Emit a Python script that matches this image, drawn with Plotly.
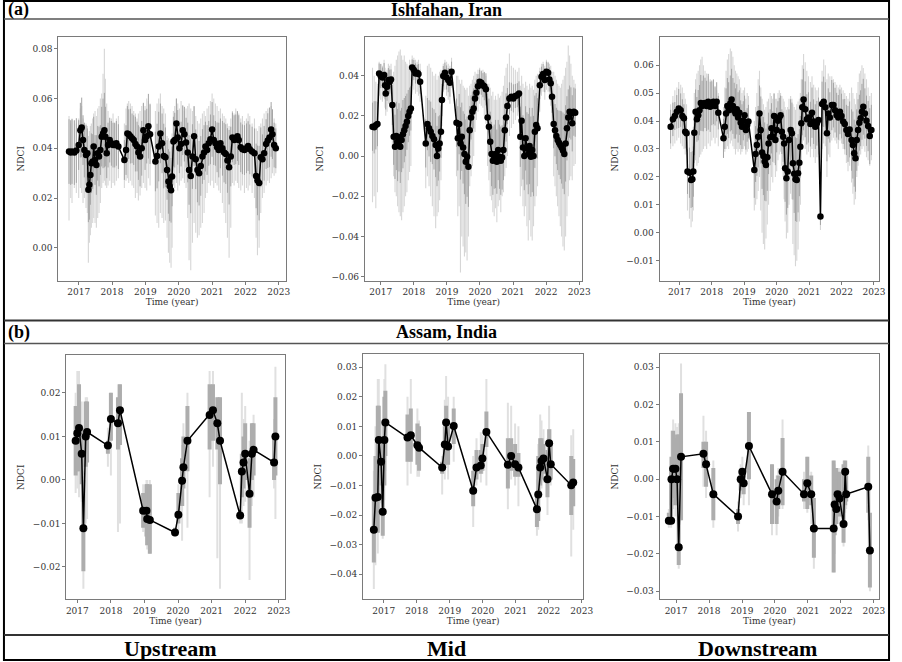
import numpy as np
import plotly.graph_objects as go

W, H = 902, 662

# ---------------- (a) Ishfahan, Iran : Upstream ----------------
a1_t = [2016.71, 2016.76, 2016.80, 2016.87, 2016.93,
        2017.00, 2017.05, 2017.09, 2017.13, 2017.17, 2017.22, 2017.26,
        2017.29, 2017.32, 2017.35, 2017.38, 2017.42,
        2017.45, 2017.49, 2017.53, 2017.57, 2017.61, 2017.65,
        2017.69, 2017.73, 2017.77, 2017.80, 2017.84,
        2017.88, 2017.93, 2017.98, 2018.03, 2018.08, 2018.13, 2018.19,
        2018.37, 2018.42, 2018.46, 2018.50, 2018.55, 2018.60, 2018.65, 2018.70, 2018.75, 2018.79, 2018.84, 2018.89,
        2018.94, 2018.99, 2019.04, 2019.09, 2019.14,
        2019.30, 2019.35, 2019.40, 2019.45, 2019.50, 2019.55, 2019.60,
        2019.65, 2019.69, 2019.73, 2019.77, 2019.80,
        2019.84, 2019.88, 2019.93, 2019.97, 2020.02, 2020.07, 2020.12, 2020.17, 2020.22,
        2020.27, 2020.31, 2020.36, 2020.41, 2020.46,
        2020.51, 2020.56, 2020.61, 2020.66, 2020.71, 2020.76, 2020.80, 2020.85,
        2020.90, 2020.95, 2021.00, 2021.05, 2021.10, 2021.15, 2021.20, 2021.25,
        2021.31, 2021.36, 2021.41, 2021.46, 2021.51, 2021.56,
        2021.61, 2021.66, 2021.71, 2021.76, 2021.80, 2021.86, 2021.91, 2021.97, 2022.03, 2022.08, 2022.13, 2022.20, 2022.27,
        2022.32, 2022.36, 2022.41, 2022.46,
        2022.51, 2022.56, 2022.62, 2022.67, 2022.72, 2022.77, 2022.81, 2022.86, 2022.91]
a1_v = [0.0387, 0.0383, 0.0387, 0.0383, 0.0391,
        0.0413, 0.0473, 0.0484, 0.0433, 0.0393, 0.0373, 0.038,
        0.0233, 0.0253, 0.0293, 0.034, 0.0347,
        0.0407, 0.0353, 0.0333, 0.038, 0.0367, 0.0393,
        0.0447, 0.046, 0.0473, 0.0447, 0.038,
        0.0413, 0.0433, 0.042, 0.0413, 0.0413, 0.042, 0.0407,
        0.0353, 0.0393, 0.046, 0.0457, 0.0449, 0.044, 0.0433, 0.0417, 0.0407, 0.0383, 0.0367, 0.04,
        0.0473, 0.0433, 0.0449, 0.0489, 0.0457,
        0.0347, 0.0369, 0.0407, 0.046, 0.042, 0.0369, 0.0364,
        0.0313, 0.0267, 0.0247, 0.0231, 0.0287,
        0.0427, 0.0433, 0.05, 0.0444, 0.04, 0.0417, 0.0473, 0.0457, 0.0423,
        0.0383, 0.0313, 0.0289, 0.0367, 0.0449,
        0.0356, 0.0313, 0.03, 0.0329, 0.0367, 0.0383, 0.0407, 0.0393,
        0.042, 0.0436, 0.0476, 0.0433, 0.042, 0.0404, 0.0393, 0.042,
        0.04, 0.0383, 0.0377, 0.0351, 0.0324, 0.0367,
        0.0444, 0.0433, 0.0436, 0.0449, 0.0433, 0.0404, 0.0396, 0.0393, 0.04, 0.0409, 0.0396, 0.0387, 0.038,
        0.0289, 0.0271, 0.026, 0.0364,
        0.0356, 0.038, 0.0417, 0.0431, 0.0444, 0.0476, 0.0457, 0.0413, 0.04]
a1_sd = [0.013, 0.013, 0.013, 0.013, 0.013,
         0.01, 0.011, 0.012, 0.01, 0.011, 0.012, 0.01,
         0.013, 0.014, 0.012, 0.012, 0.011,
         0.012, 0.01, 0.012, 0.011, 0.012, 0.01,
         0.012, 0.014, 0.015, 0.012, 0.01,
         0.009, 0.009, 0.009, 0.009, 0.009, 0.009, 0.009,
         0.008, 0.01, 0.011, 0.01, 0.011, 0.01, 0.01, 0.011, 0.01, 0.011, 0.012, 0.011,
         0.011, 0.012, 0.011, 0.013, 0.012,
         0.012, 0.013, 0.014, 0.012, 0.012, 0.013, 0.012,
         0.012, 0.013, 0.014, 0.013, 0.012,
         0.01, 0.011, 0.01, 0.011, 0.01, 0.009, 0.01, 0.011, 0.01,
         0.012, 0.014, 0.015, 0.013, 0.012,
         0.012, 0.013, 0.013, 0.012, 0.011, 0.011, 0.01, 0.01,
         0.009, 0.01, 0.011, 0.01, 0.009, 0.01, 0.011, 0.01,
         0.011, 0.012, 0.012, 0.013, 0.015, 0.012,
         0.01, 0.01, 0.01, 0.01, 0.01, 0.01, 0.01, 0.01, 0.01, 0.01, 0.01, 0.01, 0.01,
         0.013, 0.014, 0.015, 0.012,
         0.01, 0.011, 0.01, 0.011, 0.012, 0.011, 0.01, 0.009, 0.008]
a1_lo = [0.011, 0.02, 0.018, 0.024, 0.022,
         0.02, 0.024, 0.022, 0.018, 0.02, 0.016, 0.014,
         -0.006, 0.002, 0.005, 0.008, 0.01,
         0.012, 0.01, 0.008, 0.012, 0.014, 0.018,
         0.024, 0.026, 0.027, 0.025, 0.024,
         0.025, 0.027, 0.024, 0.026, 0.025, 0.027, 0.028,
         0.024, 0.027, 0.028, 0.026, 0.027, 0.025, 0.024, 0.02, 0.022, 0.019, 0.021, 0.024,
         0.026, 0.024, 0.023, 0.028, 0.025,
         0.013, 0.01, 0.008, 0.014, 0.012, 0.01, 0.011,
         0.004, -0.002, -0.006, -0.008, 0.0,
         0.025, 0.024, 0.026, 0.023, 0.025, 0.027, 0.028, 0.026, 0.024,
         0.012, -0.005, -0.009, 0.002, 0.01,
         0.006, 0.004, 0.005, 0.008, 0.01, 0.014, 0.02, 0.022,
         0.026, 0.025, 0.027, 0.024, 0.026, 0.025, 0.023, 0.022,
         0.018, 0.014, 0.01, 0.004, -0.004, 0.008,
         0.026, 0.025, 0.027, 0.026, 0.024, 0.023, 0.025, 0.022, 0.024, 0.023, 0.025, 0.022, 0.02,
         0.004, -0.003, 0.0, 0.014,
         0.02, 0.022, 0.025, 0.027, 0.026, 0.028, 0.03, 0.029, 0.03]
a1_hi = [0.053, 0.05, 0.052, 0.051, 0.05,
         0.052, 0.056, 0.057, 0.052, 0.05, 0.05, 0.049,
         0.045, 0.047, 0.049, 0.05, 0.052,
         0.054, 0.055, 0.053, 0.056, 0.057, 0.06,
         0.062, 0.07, 0.08, 0.068, 0.058,
         0.055, 0.051, 0.052, 0.054, 0.05, 0.052, 0.053,
         0.05, 0.056, 0.058, 0.059, 0.058, 0.057, 0.055, 0.054, 0.052, 0.054, 0.055, 0.057,
         0.058, 0.057, 0.06, 0.059, 0.058,
         0.055, 0.058, 0.06, 0.062, 0.057, 0.056, 0.054,
         0.045, 0.044, 0.043, 0.042, 0.046,
         0.055, 0.057, 0.06, 0.058, 0.056, 0.059, 0.057, 0.055, 0.056,
         0.057, 0.058, 0.056, 0.055, 0.057,
         0.053, 0.051, 0.05, 0.052, 0.054, 0.055, 0.053, 0.056,
         0.057, 0.059, 0.062, 0.06, 0.058, 0.057, 0.055, 0.056,
         0.054, 0.053, 0.052, 0.05, 0.049, 0.052,
         0.055, 0.054, 0.056, 0.055, 0.054, 0.052, 0.053, 0.051, 0.052, 0.054, 0.053, 0.05, 0.052,
         0.048, 0.047, 0.049, 0.05,
         0.052, 0.054, 0.055, 0.056, 0.055, 0.057, 0.054, 0.052, 0.05]

# ---------------- (a) Ishfahan, Iran : Mid ----------------
a2_t = [2016.75, 2016.80, 2016.85, 2016.90,
        2016.95, 2017.00, 2017.05, 2017.10, 2017.13, 2017.15, 2017.19, 2017.23, 2017.27, 2017.31,
        2017.35, 2017.39, 2017.43, 2017.47, 2017.51, 2017.55, 2017.59, 2017.63, 2017.67, 2017.71, 2017.75, 2017.79, 2017.83, 2017.87, 2017.91,
        2017.95, 2018.00, 2018.05, 2018.10, 2018.14, 2018.19,
        2018.36, 2018.41, 2018.46, 2018.51, 2018.56, 2018.61, 2018.66, 2018.70, 2018.74, 2018.78, 2018.82,
        2018.85, 2018.89, 2018.94, 2018.99, 2019.04, 2019.09, 2019.14,
        2019.29, 2019.33, 2019.37, 2019.41, 2019.45, 2019.49, 2019.53, 2019.57, 2019.61, 2019.65,
        2019.69, 2019.73, 2019.77, 2019.81, 2019.85, 2019.89, 2019.94, 2019.99, 2020.04, 2020.09, 2020.13, 2020.18, 2020.23,
        2020.27, 2020.31, 2020.35, 2020.39, 2020.43, 2020.47, 2020.51, 2020.55, 2020.59, 2020.63, 2020.67, 2020.71, 2020.75, 2020.79,
        2020.83, 2020.89, 2020.95, 2021.01, 2021.07, 2021.13, 2021.18,
        2021.22, 2021.26, 2021.30, 2021.34, 2021.38, 2021.42, 2021.46, 2021.50, 2021.54, 2021.58, 2021.62, 2021.66, 2021.70, 2021.74,
        2021.81, 2021.86, 2021.91, 2021.96, 2022.01, 2022.06, 2022.10, 2022.14, 2022.18,
        2022.23, 2022.27, 2022.31, 2022.35, 2022.39, 2022.43, 2022.47, 2022.51, 2022.55, 2022.59, 2022.63, 2022.67, 2022.71, 2022.75, 2022.79, 2022.84, 2022.88]
a2_v = [0.0146, 0.0143, 0.0153, 0.0159,
        0.0411, 0.0398, 0.0391, 0.0403, 0.0353, 0.0312, 0.0345, 0.0378, 0.037, 0.0381,
        0.0254, 0.0096, 0.0046, 0.01, 0.0055, 0.0093, 0.0046, 0.008, 0.0109, 0.0129, 0.0149, 0.0171, 0.0199, 0.0221, 0.0237,
        0.0441, 0.0428, 0.0411, 0.0415, 0.0408, 0.037,
        0.0063, 0.0159, 0.0138, 0.0121, 0.01, 0.0083, 0.0055, 0.0, 0.0038, 0.0063, 0.0121,
        0.0279, 0.0398, 0.0415, 0.0391, 0.0378, 0.0365, 0.042,
        0.0166, 0.0088, 0.0159, 0.0063, 0.0096, 0.0043, 0.001, -0.0028, -0.0003, -0.0053,
        0.0129, 0.0192, 0.0221, 0.0237, 0.0287, 0.0315, 0.0348, 0.037, 0.0365, 0.0353, 0.0348, 0.0332, 0.0192,
        0.0146, 0.0071, 0.001, -0.0023, -0.0003, 0.001, -0.0028, 0.003, -0.0003, -0.0023, -0.0007, 0.003, 0.0129, 0.0192,
        0.0249, 0.0287, 0.0295, 0.0287, 0.0299, 0.0303, 0.0312,
        0.0096, 0.0176, 0.0043, 0.0, 0.0088, 0.0038, 0.001, 0.005, -0.0003, 0.003, 0.0, 0.0121, 0.0154, 0.0138,
        0.0353, 0.0395, 0.0408, 0.0378, 0.042, 0.0415, 0.0381, 0.0362, 0.0295,
        0.0159, 0.0129, 0.01, 0.008, 0.0066, 0.0055, 0.0043, 0.0027, 0.001, 0.0063, 0.0138, 0.0192, 0.0221, 0.0212, 0.0163, 0.0221, 0.0216]
a2_sd = [0.012, 0.013, 0.012, 0.011,
         0.005, 0.006, 0.005, 0.006, 0.007, 0.008, 0.007, 0.006, 0.006, 0.005,
         0.01, 0.014, 0.016, 0.017, 0.018, 0.017, 0.018, 0.016, 0.017, 0.016, 0.015, 0.014, 0.013, 0.012, 0.011,
         0.004, 0.005, 0.005, 0.004, 0.005, 0.006,
         0.012, 0.013, 0.014, 0.015, 0.014, 0.015, 0.016, 0.015, 0.016, 0.014, 0.013,
         0.008, 0.005, 0.005, 0.006, 0.006, 0.007, 0.005,
         0.012, 0.016, 0.015, 0.018, 0.017, 0.018, 0.02, 0.021, 0.02, 0.02,
         0.012, 0.011, 0.01, 0.01, 0.008, 0.007, 0.006, 0.006, 0.006, 0.006, 0.007, 0.008, 0.012,
         0.014, 0.015, 0.016, 0.017, 0.016, 0.017, 0.016, 0.015, 0.016, 0.017, 0.016, 0.015, 0.013, 0.012,
         0.009, 0.008, 0.007, 0.007, 0.006, 0.006, 0.006,
         0.015, 0.014, 0.016, 0.017, 0.016, 0.018, 0.02, 0.019, 0.02, 0.021, 0.02, 0.018, 0.016, 0.015,
         0.007, 0.005, 0.005, 0.006, 0.005, 0.005, 0.006, 0.006, 0.008,
         0.012, 0.013, 0.014, 0.015, 0.016, 0.017, 0.018, 0.019, 0.02, 0.019, 0.016, 0.014, 0.013, 0.013, 0.014, 0.012, 0.012]
a2_lo = [-0.023, -0.02, -0.026, -0.018,
         0.03, 0.028, 0.027, 0.029, 0.024, 0.02, 0.022, 0.026, 0.025, 0.027,
         0.005, -0.01, -0.018, -0.02, -0.025, -0.028, -0.03, -0.032, -0.028, -0.025, -0.02, -0.018, -0.012, -0.008, -0.005,
         0.035, 0.033, 0.031, 0.032, 0.03, 0.027,
         -0.016, -0.01, -0.015, -0.02, -0.025, -0.03, -0.036, -0.03, -0.028, -0.022, -0.012,
         0.015, 0.032, 0.033, 0.03, 0.028, 0.026, 0.034,
         -0.01, -0.03, -0.025, -0.058, -0.04, -0.045, -0.05, -0.048, -0.052, -0.04,
         -0.015, -0.01, -0.005, 0.0, 0.012, 0.018, 0.022, 0.026, 0.025, 0.024, 0.02, 0.016, -0.005,
         -0.012, -0.02, -0.022, -0.028, -0.03, -0.026, -0.033, -0.025, -0.022, -0.028, -0.02, -0.018, -0.01, -0.006,
         0.0, 0.01, 0.014, 0.016, 0.018, 0.02, 0.022,
         -0.02, -0.015, -0.025, -0.03, -0.025, -0.035, -0.042, -0.032, -0.04, -0.042, -0.035, -0.025, -0.02, -0.015,
         0.022, 0.03, 0.032, 0.028, 0.033, 0.032, 0.028, 0.025, 0.015,
         -0.01, -0.015, -0.02, -0.025, -0.03, -0.035, -0.04, -0.045, -0.047, -0.04, -0.03, -0.02, -0.012, -0.01, -0.012, -0.005, -0.004]
a2_hi = [0.044, 0.04, 0.037, 0.036,
         0.047, 0.046, 0.045, 0.048, 0.044, 0.042, 0.043, 0.046, 0.045, 0.046,
         0.04, 0.042, 0.045, 0.048, 0.05, 0.052, 0.053, 0.05, 0.048, 0.05, 0.047, 0.046, 0.045, 0.048, 0.046,
         0.05, 0.049, 0.048, 0.047, 0.048, 0.046,
         0.03, 0.045, 0.046, 0.044, 0.042, 0.04, 0.041, 0.038, 0.04, 0.042, 0.043,
         0.04, 0.046, 0.048, 0.047, 0.046, 0.045, 0.049,
         0.04, 0.04, 0.038, 0.036, 0.038, 0.035, 0.034, 0.033, 0.034, 0.03,
         0.035, 0.036, 0.038, 0.04, 0.042, 0.041, 0.043, 0.044, 0.042, 0.043, 0.042, 0.04, 0.036,
         0.036, 0.034, 0.03, 0.032, 0.028, 0.03, 0.028, 0.031, 0.029, 0.03, 0.032, 0.035, 0.04, 0.044,
         0.046, 0.051, 0.045, 0.044, 0.043, 0.042, 0.044,
         0.035, 0.04, 0.036, 0.034, 0.037, 0.035, 0.033, 0.036, 0.034, 0.035, 0.033, 0.038, 0.04, 0.041,
         0.044, 0.046, 0.047, 0.045, 0.048, 0.047, 0.046, 0.045, 0.042,
         0.042, 0.04, 0.038, 0.036, 0.035, 0.034, 0.036, 0.038, 0.04, 0.044, 0.047, 0.055, 0.05, 0.046, 0.04, 0.038, 0.036]

# ---------------- (a) Ishfahan, Iran : Downstream ----------------
a3_t = [2016.73, 2016.80, 2016.86, 2016.92, 2016.98, 2017.04, 2017.09, 2017.14, 2017.18, 2017.22,
        2017.25, 2017.31, 2017.36, 2017.40, 2017.43,
        2017.46, 2017.50, 2017.54, 2017.58, 2017.62, 2017.66, 2017.70, 2017.74, 2017.79, 2017.84, 2017.89, 2017.95, 2018.00, 2018.05, 2018.10, 2018.15, 2018.20,
        2018.36, 2018.40, 2018.44, 2018.48, 2018.52, 2018.57, 2018.61, 2018.65, 2018.69, 2018.73, 2018.77, 2018.81, 2018.85, 2018.89, 2018.93, 2018.97, 2019.01, 2019.05, 2019.09, 2019.13,
        2019.31, 2019.35, 2019.39, 2019.43, 2019.47, 2019.51, 2019.55, 2019.59, 2019.63, 2019.67, 2019.71, 2019.75, 2019.80, 2019.84, 2019.88, 2019.92, 2019.96,
        2020.00, 2020.04, 2020.08, 2020.12, 2020.16, 2020.20,
        2020.23, 2020.26, 2020.30, 2020.34, 2020.38, 2020.43, 2020.47, 2020.50, 2020.54, 2020.58, 2020.62, 2020.66, 2020.70, 2020.73,
        2020.76, 2020.79, 2020.83, 2020.88, 2020.93, 2020.98, 2021.04, 2021.09, 2021.14, 2021.19, 2021.24, 2021.29,
        2021.35,
        2021.40, 2021.45, 2021.50, 2021.55, 2021.59, 2021.64, 2021.70, 2021.75, 2021.80, 2021.85, 2021.90, 2021.95, 2022.00, 2022.05, 2022.10, 2022.15, 2022.20, 2022.25, 2022.31, 2022.35, 2022.39,
        2022.43, 2022.47, 2022.51, 2022.55, 2022.59, 2022.63, 2022.67, 2022.72, 2022.77, 2022.82, 2022.87, 2022.92]
a3_v = [0.038, 0.0406, 0.0418, 0.0433, 0.0445, 0.0439, 0.0418, 0.041, 0.0362, 0.0356,
        0.0219, 0.0215, 0.0189, 0.0192, 0.0219,
        0.0358, 0.0433, 0.0406, 0.0421, 0.0439, 0.0465, 0.0454, 0.0463, 0.0465, 0.0454, 0.0469, 0.0451, 0.0465, 0.0469, 0.0454, 0.0469, 0.043,
        0.0338, 0.038, 0.0427, 0.0454, 0.0439, 0.0463, 0.0477, 0.0454, 0.0437, 0.0427, 0.0442, 0.0413, 0.043, 0.0394, 0.038, 0.0401, 0.0421, 0.0368, 0.0386, 0.0398,
        0.0225, 0.0282, 0.0314, 0.0344, 0.0427, 0.0368, 0.0287, 0.0275, 0.0255, 0.0243, 0.027, 0.032, 0.0342, 0.0374, 0.0344, 0.0418, 0.0332,
        0.0368, 0.0401, 0.0413, 0.0421, 0.0362, 0.0344,
        0.032, 0.0231, 0.0195, 0.0219, 0.0332, 0.0368, 0.0356, 0.0249, 0.0211, 0.0192, 0.0189, 0.0213, 0.0251, 0.0308,
        0.0392, 0.0449, 0.0477, 0.0442, 0.0406, 0.0413, 0.0389, 0.043, 0.0398, 0.038, 0.0392, 0.0404,
        0.0058,
        0.0461, 0.0469, 0.0449, 0.0356, 0.0427, 0.0413, 0.0457, 0.0457, 0.0439, 0.0421, 0.0413, 0.0433, 0.0418, 0.0398, 0.0389, 0.0368, 0.0354, 0.037, 0.0332, 0.0314, 0.0285,
        0.0267, 0.0332, 0.0368, 0.0394, 0.041, 0.0433, 0.0451, 0.0427, 0.0401, 0.0382, 0.0346, 0.0368]
a3_sd = [0.006, 0.006, 0.005, 0.006, 0.007, 0.006, 0.006, 0.005, 0.006, 0.006,
         0.008, 0.009, 0.01, 0.01, 0.009,
         0.008, 0.008, 0.008, 0.009, 0.009, 0.01, 0.009, 0.01, 0.009, 0.009, 0.01, 0.009, 0.008, 0.008, 0.007, 0.007, 0.006,
         0.007, 0.008, 0.009, 0.01, 0.01, 0.01, 0.011, 0.01, 0.01, 0.009, 0.009, 0.009, 0.008, 0.008, 0.008, 0.007, 0.007, 0.007, 0.006, 0.006,
         0.01, 0.01, 0.011, 0.011, 0.01, 0.012, 0.013, 0.014, 0.014, 0.013, 0.012, 0.011, 0.01, 0.009, 0.009, 0.008, 0.009,
         0.008, 0.007, 0.007, 0.007, 0.008, 0.009,
         0.01, 0.012, 0.013, 0.013, 0.011, 0.011, 0.011, 0.013, 0.014, 0.015, 0.015, 0.014, 0.012, 0.011,
         0.009, 0.01, 0.011, 0.01, 0.009, 0.009, 0.008, 0.009, 0.008, 0.008, 0.008, 0.008,
         0.003,
         0.008, 0.009, 0.009, 0.01, 0.009, 0.009, 0.009, 0.008, 0.008, 0.008, 0.008, 0.008, 0.008, 0.008, 0.009, 0.009, 0.01, 0.01, 0.011, 0.012, 0.012,
         0.012, 0.011, 0.011, 0.01, 0.01, 0.01, 0.01, 0.009, 0.009, 0.009, 0.01, 0.009]
a3_lo = [0.03, 0.031, 0.032, 0.033, 0.034, 0.032, 0.031, 0.03, 0.028, 0.029,
         0.008, 0.005, 0.002, 0.004, 0.008,
         0.025, 0.026, 0.024, 0.025, 0.027, 0.028, 0.029, 0.03, 0.031, 0.03, 0.032, 0.031, 0.033, 0.034, 0.032, 0.034, 0.031,
         0.027, 0.029, 0.03, 0.031, 0.03, 0.032, 0.033, 0.031, 0.03, 0.028, 0.03, 0.029, 0.03, 0.028, 0.029, 0.03, 0.031, 0.028, 0.029, 0.03,
         0.008, 0.01, 0.012, 0.015, 0.02, 0.008, 0.0, -0.004, -0.006, -0.002, 0.003, 0.01, 0.015, 0.02, 0.018, 0.025, 0.02,
         0.022, 0.026, 0.028, 0.029, 0.024, 0.02,
         0.012, 0.004, -0.002, 0.0, 0.01, 0.014, 0.012, -0.004, -0.008, -0.012, -0.01, -0.006, 0.004, 0.01,
         0.025, 0.03, 0.033, 0.03, 0.028, 0.029, 0.027, 0.03, 0.027, 0.025, 0.027, 0.028,
         0.001,
         0.03, 0.032, 0.031, 0.02, 0.028, 0.027, 0.033, 0.034, 0.033, 0.032, 0.03, 0.033, 0.032, 0.03, 0.028, 0.025, 0.022, 0.024, 0.018, 0.014, 0.01,
         0.012, 0.02, 0.024, 0.027, 0.028, 0.03, 0.031, 0.029, 0.027, 0.026, 0.024, 0.026]
a3_hi = [0.046, 0.049, 0.051, 0.052, 0.054, 0.053, 0.052, 0.05, 0.048, 0.046,
         0.036, 0.037, 0.035, 0.036, 0.038,
         0.05, 0.055, 0.057, 0.058, 0.06, 0.062, 0.063, 0.06, 0.058, 0.057, 0.056, 0.055, 0.054, 0.053, 0.052, 0.051, 0.05,
         0.045, 0.052, 0.058, 0.062, 0.064, 0.066, 0.065, 0.063, 0.06, 0.058, 0.057, 0.056, 0.055, 0.052, 0.05, 0.051, 0.052, 0.048, 0.05, 0.049,
         0.04, 0.045, 0.05, 0.055, 0.058, 0.052, 0.048, 0.046, 0.044, 0.045, 0.047, 0.048, 0.05, 0.049, 0.048, 0.05, 0.048,
         0.048, 0.05, 0.051, 0.05, 0.049, 0.048,
         0.047, 0.045, 0.044, 0.045, 0.048, 0.049, 0.048, 0.046, 0.045, 0.044, 0.046, 0.047, 0.048, 0.05,
         0.055, 0.06, 0.064, 0.061, 0.058, 0.056, 0.054, 0.056, 0.053, 0.052, 0.051, 0.052,
         0.012,
         0.058, 0.062, 0.06, 0.055, 0.057, 0.056, 0.056, 0.055, 0.054, 0.053, 0.052, 0.053, 0.052, 0.051, 0.05, 0.049, 0.048, 0.05, 0.052, 0.05, 0.048,
         0.046, 0.05, 0.054, 0.057, 0.058, 0.06, 0.059, 0.057, 0.055, 0.052, 0.049, 0.05]

# ---------------- (b) Assam, India : Upstream ----------------
b1_t = [2016.95, 2017.00, 2017.05, 2017.13, 2017.18, 2017.25, 2017.29, 2017.91, 2018.00, 2018.21, 2018.27,
        2018.96, 2019.06, 2019.08, 2019.16, 2019.91, 2020.01, 2020.12, 2020.16, 2020.28, 2020.94, 2021.04,
        2021.17, 2021.25, 2021.85, 2021.90, 2021.95, 2022.00, 2022.13, 2022.20, 2022.25, 2022.86, 2022.90]
b1_v = [0.009, 0.0107, 0.0119, 0.006, -0.0111, 0.010, 0.011, 0.0079, 0.014, 0.013, 0.016,
        -0.0071, -0.0071, -0.009, -0.0092, -0.0121, -0.008, -0.0002, 0.0029, 0.009, 0.0149, 0.016,
        0.013, 0.009, -0.0082, 0.0019, 0.004, 0.006, -0.0032, 0.006, 0.0069, 0.004, 0.010]
b1_dhi = [0.017, 0.017, 0.022, 0.012, 0.0, 0.018, 0.018, 0.009, 0.02, 0.019, 0.022,
          -0.003, -0.001, -0.001, -0.001, -0.011, -0.003, 0.005, 0.01, 0.017, 0.022, 0.022,
          0.019, 0.019, -0.007, 0.006, 0.01, 0.013, 0.005, 0.013, 0.013, 0.01, 0.019]
b1_dlo = [0.001, 0.002, 0.002, -0.001, -0.021, 0.003, 0.004, 0.006, 0.009, 0.007, 0.008,
          -0.011, -0.013, -0.015, -0.017, -0.0125, -0.01, -0.006, -0.002, 0.002, 0.007, 0.009,
          0.007, -0.001, -0.009, -0.004, -0.002, 0.0, -0.011, 0.0, 0.001, 0.0, 0.001]
b1_lhi = [0.02, 0.025, 0.025, 0.018, 0.002, 0.019, 0.019, 0.012, 0.02, 0.022, 0.022,
          -0.001, 0.0, 0.0, 0.0, -0.011, -0.001, 0.008, 0.013, 0.02, 0.025, 0.025,
          0.019, 0.019, -0.006, 0.02, 0.014, 0.017, 0.009, 0.013, 0.015, 0.014, 0.026]
b1_llo = [-0.003, -0.002, -0.004, -0.005, -0.025, -0.01, -0.009, 0.003, 0.001, -0.012, -0.01,
          -0.012, -0.015, -0.016, -0.017, -0.013, -0.012, -0.014, -0.006, -0.011, -0.004, 0.003,
          -0.018, -0.025, -0.01, -0.01, -0.006, -0.005, -0.023, -0.006, -0.004, -0.002, -0.009]

# ---------------- (b) Assam, India : Mid ----------------
b2_t = [2016.70, 2016.75, 2016.82, 2016.85, 2016.92, 2016.97, 2017.02, 2017.05, 2017.72, 2017.82, 2018.02, 2018.07,
        2018.77, 2018.85, 2018.89, 2018.95, 2019.12, 2019.71, 2019.81, 2019.94, 2019.99, 2020.11, 2020.76, 2020.86,
        2020.98, 2021.08, 2021.64, 2021.68, 2021.74, 2021.78, 2021.84, 2021.96, 2022.01, 2022.06, 2022.68, 2022.74]
b2_v = [-0.025, -0.0141, -0.0139, 0.0054, -0.002, -0.0189, 0.0054, 0.0113, 0.0062, 0.007, 0.0036, 0.0028,
        -0.0039, 0.0039, 0.0113, 0.0032, 0.0101, -0.0118, -0.0039, -0.0032, -0.0009, 0.0081, -0.003, 0.0,
        -0.0028, -0.0039, -0.018, -0.013, -0.0039, -0.0017, -0.0009, -0.0079, 0.0043, -0.0028, -0.0099, -0.009]
b2_dhi = [-0.013, 0.0, 0.017, 0.017, 0.005, 0.0, 0.02, 0.022, 0.014, 0.016, 0.011, 0.01,
          -0.002, 0.01, 0.017, 0.01, 0.016, -0.005, 0.002, 0.002, 0.004, 0.015, 0.006, 0.006,
          0.004, 0.001, -0.012, 0.0, 0.006, 0.006, 0.004, 0.002, 0.009, 0.005, 0.0, -0.001]
b2_dlo = [-0.036, -0.026, -0.026, -0.005, -0.01, -0.027, -0.01, 0.0, -0.002, -0.002, -0.003, -0.005,
          -0.006, -0.003, 0.0, -0.003, 0.004, -0.017, -0.008, -0.006, -0.005, 0.003, -0.011, -0.005,
          -0.007, -0.007, -0.024, -0.022, -0.01, -0.008, -0.006, -0.014, -0.004, -0.008, -0.02, -0.017]
b2_lhi = [-0.005, 0.01, 0.026, 0.026, 0.012, 0.006, 0.026, 0.031, 0.02, 0.026, 0.016, 0.012,
          0.0, 0.019, 0.027, 0.02, 0.02, 0.0, 0.006, 0.008, 0.007, 0.026, 0.018, 0.017,
          0.011, 0.01, -0.008, 0.004, 0.014, 0.012, 0.009, 0.006, 0.017, 0.009, 0.007, 0.009]
b2_llo = [-0.045, -0.037, -0.033, -0.012, -0.016, -0.028, -0.015, -0.005, -0.01, -0.006, -0.007, -0.007,
          -0.013, -0.008, -0.004, -0.008, -0.002, -0.024, -0.01, -0.009, -0.006, -0.01, -0.018, -0.008,
          -0.01, -0.017, -0.027, -0.025, -0.012, -0.011, -0.009, -0.02, -0.008, -0.01, -0.034, -0.025]

# ---------------- (b) Assam, India : Downstream ----------------
b3_t = [2016.78, 2016.85, 2016.86, 2016.91, 2016.98, 2017.03, 2017.08, 2017.15, 2017.83, 2017.91, 2018.13,
        2018.88, 2018.96, 2019.01, 2019.05, 2019.21, 2019.91, 2020.05, 2020.10, 2020.23, 2020.88, 2020.98,
        2021.10, 2021.18, 2021.78, 2021.81, 2021.86, 2021.90, 2021.96, 2022.08, 2022.13, 2022.16, 2022.83, 2022.88]
b3_v = [-0.0111, -0.0111, 0.0, 0.0028, 0.0028, 0.0, -0.0182, 0.006, 0.0068, 0.004, -0.004,
        -0.01, 0.0, 0.002, -0.0011, 0.0089, -0.004, -0.006, -0.0031, 0.002, -0.004, -0.0011,
        -0.004, -0.0132, -0.0132, -0.0068, -0.008, -0.004, -0.0052, -0.012, 0.002, -0.004, -0.002, -0.0191]
b3_dhi = [-0.009, 0.003, 0.006, 0.013, 0.011, 0.012, 0.012, 0.023, 0.01, 0.01, 0.003,
          -0.008, 0.002, 0.003, 0.001, 0.018, 0.004, 0.0, 0.001, 0.011, 0.0, 0.006,
          0.001, -0.005, 0.005, 0.0, 0.003, 0.0, 0.002, 0.004, 0.005, 0.001, 0.006, -0.009]
b3_dlo = [-0.012, -0.011, -0.007, -0.005, -0.007, -0.005, -0.023, -0.011, 0.003, -0.002, -0.011,
          -0.012, -0.003, -0.002, -0.004, 0.0, -0.012, -0.012, -0.008, -0.007, -0.006, -0.008,
          -0.007, -0.021, -0.025, -0.015, -0.012, -0.008, -0.01, -0.017, -0.007, -0.006, -0.009, -0.029]
b3_lhi = [-0.008, 0.006, 0.013, 0.016, 0.015, 0.014, 0.015, 0.031, 0.017, 0.013, 0.005,
          -0.006, 0.004, 0.006, 0.003, 0.018, 0.004, 0.001, 0.003, 0.016, 0.002, 0.006,
          0.002, -0.005, 0.005, 0.004, 0.003, 0.003, 0.003, 0.005, 0.005, 0.003, 0.009, -0.009]
b3_llo = [-0.013, -0.013, -0.011, -0.008, -0.01, -0.007, -0.024, -0.011, -0.002, -0.005, -0.013,
          -0.014, -0.005, -0.004, -0.007, -0.007, -0.015, -0.015, -0.01, -0.008, -0.008, -0.009,
          -0.012, -0.024, -0.025, -0.02, -0.014, -0.01, -0.012, -0.018, -0.009, -0.008, -0.011, -0.03]

year_ticks = [2017, 2018, 2019, 2020, 2021, 2022, 2023]
section_titles = ["Ishfahan, Iran", "Assam, India"]
section_tags = ["(a)", "(b)"]
column_titles = ["Upstream", "Mid", "Downstream"]

# panel boxes in pixels: (left, right, top, bottom), axis ranges, y ticks
panels = [
    dict(box=(59, 289, 37, 281), xr=(2016.39, 2023.21), yr=(-0.0132, 0.0848),
         yt=[0.0, 0.02, 0.04, 0.06, 0.08], fmt=".2f"),
    dict(box=(369, 589, 37, 281), xr=(2016.52, 2023.10), yr=(-0.0620, 0.0593),
         yt=[-0.06, -0.04, -0.02, 0.0, 0.02, 0.04], fmt=".2f"),
    dict(box=(667, 889, 37, 281), xr=(2016.39, 2023.16), yr=(-0.0171, 0.0701),
         yt=[-0.01, 0.0, 0.01, 0.02, 0.03, 0.04, 0.05, 0.06], fmt=".2f"),
    dict(box=(67, 288, 356, 600), xr=(2016.67, 2023.18), yr=(-0.0274, 0.0286),
         yt=[-0.02, -0.01, 0.0, 0.01, 0.02], fmt=".2f"),
    dict(box=(367, 590, 355, 600), xr=(2016.37, 2023.05), yr=(-0.0484, 0.0343),
         yt=[-0.04, -0.03, -0.02, -0.01, 0.0, 0.01, 0.02, 0.03], fmt=".2f"),
    dict(box=(667, 889, 355, 600), xr=(2016.50, 2023.16), yr=(-0.0321, 0.0334),
         yt=[-0.03, -0.02, -0.01, 0.0, 0.01, 0.02, 0.03], fmt=".2f"),
]

fig = go.Figure()

def ax_names(i):
    return ("x" if i == 0 else f"x{i+1}"), ("y" if i == 0 else f"y{i+1}")

def add_err(i, t, v, minus, plus, color, thick):
    xa, ya = ax_names(i)
    fig.add_trace(go.Scatter(
        x=t, y=v, xaxis=xa, yaxis=ya, mode="markers",
        marker=dict(size=1, color="rgba(0,0,0,0)"),
        error_y=dict(type="data", symmetric=False, array=list(plus), arrayminus=list(minus),
                     color=color, thickness=thick, width=0),
        showlegend=False, hoverinfo="skip"))

def add_line(i, t, v, msize):
    xa, ya = ax_names(i)
    fig.add_trace(go.Scatter(
        x=t, y=v, xaxis=xa, yaxis=ya, mode="lines+markers",
        line=dict(color="black", width=1.5),
        marker=dict(size=msize, color="black"),
        showlegend=False))

top = [(a1_t, a1_v, a1_sd, a1_lo, a1_hi), (a2_t, a2_v, a2_sd, a2_lo, a2_hi), (a3_t, a3_v, a3_sd, a3_lo, a3_hi)]
for i, (t, v, sd, lo, hi) in enumerate(top):
    v_ = np.array(v); sd_ = np.array(sd); lo_ = np.array(lo); hi_ = np.array(hi)
    add_err(i, t, v, v_ - lo_, hi_ - v_, "#d6d6d6", 1.1)
    add_err(i, t, v, sd_, sd_, "#a4a4a4", 1.0)
    add_line(i, t, v, 6.5)

bottom = [(b1_t, b1_v, b1_dlo, b1_dhi, b1_llo, b1_lhi), (b2_t, b2_v, b2_dlo, b2_dhi, b2_llo, b2_lhi),
          (b3_t, b3_v, b3_dlo, b3_dhi, b3_llo, b3_lhi)]
for j, (t, v, dlo, dhi, llo, lhi) in enumerate(bottom):
    i = j + 3
    v_ = np.array(v)
    add_err(i, t, v, v_ - np.array(llo), np.array(lhi) - v_, "#e0e0e0", 2)
    add_err(i, t, v, v_ - np.array(dlo), np.array(dhi) - v_, "#adadad", 4)
    add_line(i, t, v, 8)

tickfont = dict(family="DejaVu Serif", size=9, color="#333333")
layout = {}
for i, p in enumerate(panels):
    l, r, tp, bt = p["box"]
    xk = "xaxis" if i == 0 else f"xaxis{i+1}"
    yk = "yaxis" if i == 0 else f"yaxis{i+1}"
    xa, ya = ax_names(i)
    layout[xk] = dict(domain=[l / W, r / W], range=list(p["xr"]), anchor=ya,
                      tickvals=year_ticks, ticktext=[str(y) for y in year_ticks],
                      showline=True, mirror=True, linecolor="#7a7a7a", linewidth=1,
                      ticks="outside", ticklen=3, tickcolor="#7a7a7a", showgrid=False, zeroline=False,
                      tickfont=tickfont,
                      title=dict(text="Time (year)", font=dict(family="DejaVu Serif", size=9, color="#333"), standoff=2))
    layout[yk] = dict(domain=[1 - bt / H, 1 - tp / H], range=list(p["yr"]), anchor=xa,
                      tickvals=p["yt"], tickformat=p["fmt"],
                      showline=True, mirror=True, linecolor="#7a7a7a", linewidth=1,
                      ticks="outside", ticklen=3, tickcolor="#7a7a7a", showgrid=False, zeroline=False,
                      tickfont=tickfont,
                      title=dict(text="NDCI", font=dict(family="DejaVu Serif", size=9, color="#333"), standoff=6))

def px(x):
    return x / W

def py(y):
    return 1 - y / H

shapes = [
    dict(type="rect", xref="paper", yref="paper", x0=px(4), x1=px(899), y0=py(661), y1=py(1),
         line=dict(color="black", width=2)),
    dict(type="line", xref="paper", yref="paper", x0=px(4), x1=px(899), y0=py(19), y1=py(19),
         line=dict(color="#555555", width=1.5)),
    dict(type="line", xref="paper", yref="paper", x0=px(4), x1=px(899), y0=py(321), y1=py(321),
         line=dict(color="#333333", width=2)),
    dict(type="line", xref="paper", yref="paper", x0=px(4), x1=px(899), y0=py(344), y1=py(344),
         line=dict(color="#555555", width=1.5)),
    dict(type="line", xref="paper", yref="paper", x0=px(4), x1=px(899), y0=py(636), y1=py(636),
         line=dict(color="#333333", width=2)),
]

hfont = dict(family="Liberation Serif", size=18, color="black")
annotations = []
for k, (tag, title, yc) in enumerate(zip(section_tags, section_titles, [10, 333])):
    annotations.append(dict(text=f"<b>{tag}</b>", xref="paper", yref="paper", x=px(6), y=py(yc),
                            xanchor="left", yanchor="middle", showarrow=False, font=hfont))
    annotations.append(dict(text=f"<b>{title}</b>", xref="paper", yref="paper", x=px(451), y=py(yc),
                            xanchor="center", yanchor="middle", showarrow=False, font=hfont))
for name, xc in zip(column_titles, [172, 452, 766]):
    annotations.append(dict(text=f"<b>{name}</b>", xref="paper", yref="paper", x=px(xc), y=py(649),
                            xanchor="center", yanchor="middle", showarrow=False,
                            font=dict(family="Liberation Serif", size=22, color="black")))

fig.update_layout(width=W, height=H, autosize=False, margin=dict(l=0, r=0, t=0, b=0),
                  paper_bgcolor="white", plot_bgcolor="white",
                  shapes=shapes, annotations=annotations, **layout)

fig.write_html("out.html", config={"displayModeBar": False},
               post_script="document.body.style.margin='0px';document.body.style.overflow='hidden';")
